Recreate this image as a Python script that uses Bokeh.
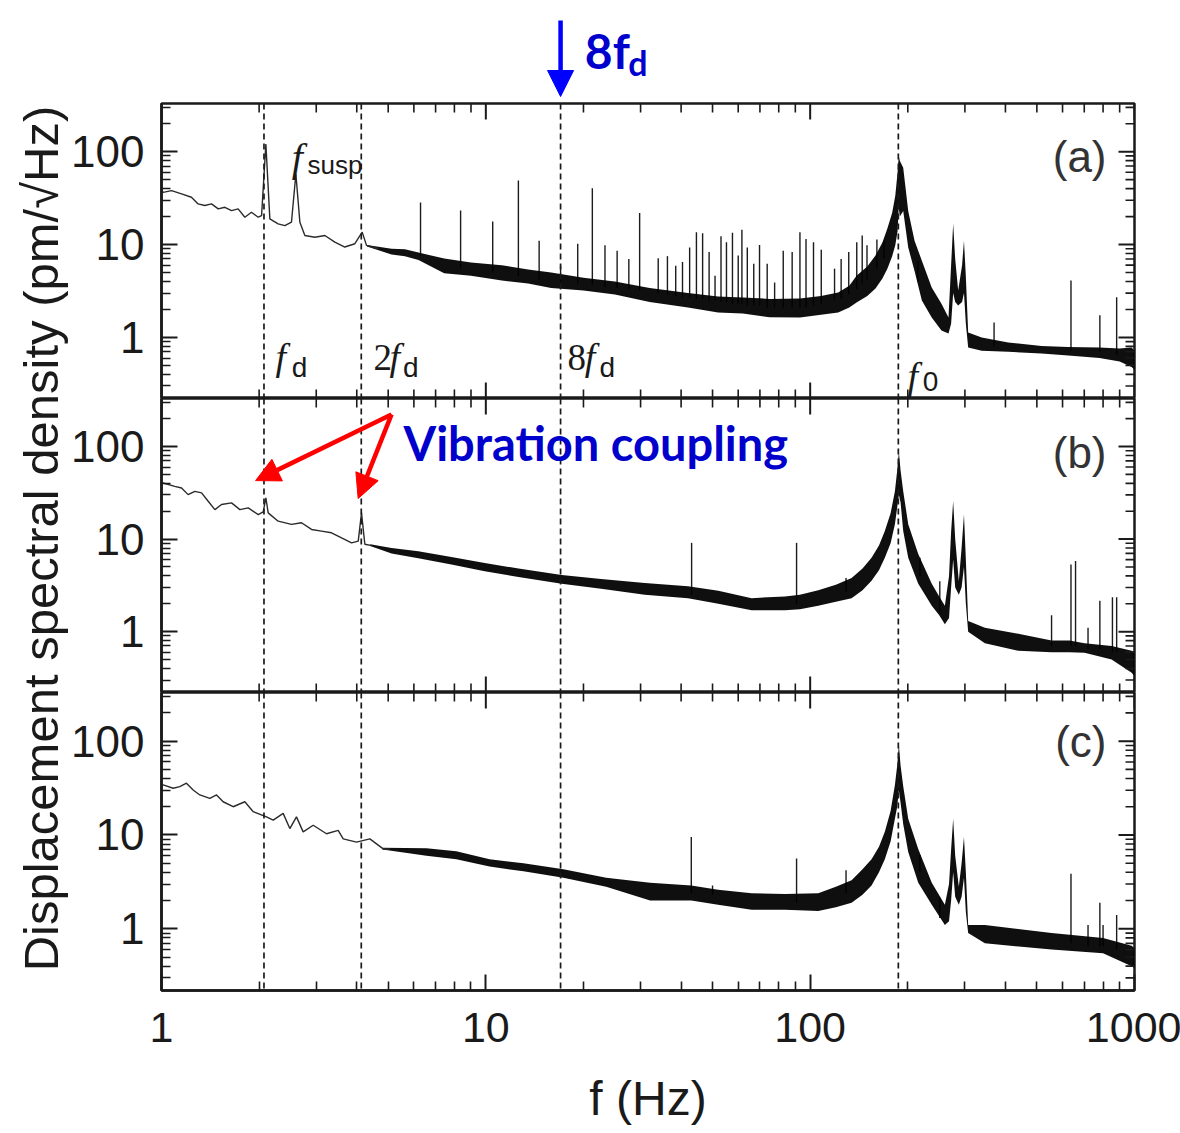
import math
from bokeh.plotting import figure
from bokeh.models import (Range1d, LogAxis, FixedTicker, PrintfTickFormatter, Span, Label,
                          Arrow, NormalHead)
from bokeh.layouts import column, row
from bokeh.embed import file_html
from bokeh.resources import INLINE

# ---------------- data ----------------
x_ticks = [1, 10, 100, 1000]
y_ticks = [1, 10, 100]
panel_names = ["(a)", "(b)", "(c)"]
marker_freqs = [2.07, 4.13, 17.0, 187.0]      # f_d, 2f_d, 8f_d, f_0

# ---- panel (a)
line_a_f = [1.0, 1.012, 1.074, 1.153, 1.237, 1.297, 1.36, 1.426, 1.496, 1.568, 1.644, 1.723, 1.807,
            1.894, 1.987, 2.035, 2.098, 2.158, 2.289, 2.401, 2.516, 2.596, 2.671, 2.767, 2.971,
            3.19, 3.423, 3.675, 3.946, 4.157, 4.287, 4.657]
line_a_v = [38.0, 36.5, 38.1, 35.1, 32.3, 27.4, 26.3, 27.4, 24.2, 25.2, 23.2, 24.2, 19.7,
            22.3, 19.7, 20.5, 121, 18.9, 16.7, 16.0, 17.4, 57.5, 17.4, 12.5, 12.0,
            12.5, 10.6, 9.4, 10.2, 13.6, 9.8, 9.0]
band_a_f = [4.3, 5.12, 5.63, 6.2, 7.44, 9.0, 11.2, 13.5, 15.9, 20, 25, 32, 42, 52, 62, 75, 93, 108,
            122, 132, 139, 150, 159, 167, 173, 179, 183, 186, 187.5, 189, 193.6, 200.6, 209.8,
            221, 237, 254, 267, 272, 276, 280, 286, 294, 298, 302, 307, 338, 408, 517, 625,
            780, 900, 980, 1000]
band_a_lo = [9.5, 7.8, 7.5, 6.8, 4.9, 4.6, 4.1, 3.8, 3.4, 3.2, 2.9, 2.4, 2.1, 1.85, 1.81, 1.65, 1.64,
             1.75, 1.86, 2.1, 2.38, 2.8, 3.37, 4.3, 5.5, 7.5, 9.8, 14, 25, 20, 23, 9.3, 5.2,
             2.5, 1.64, 1.19, 1.1, 1.4, 3.0, 2.4, 2.2, 2.4, 3.0, 1.4, 0.78, 0.72, 0.70, 0.67, 0.64,
             0.6, 0.55, 0.48, 0.45]
band_a_hi = [9.9, 9.0, 8.9, 8.2, 7.06, 6.4, 6.0, 5.4, 5.0, 4.4, 4.0, 3.4, 3.0, 2.75, 2.69, 2.6, 2.63,
             2.8, 3.05, 3.6, 4.6, 5.8, 7.6, 10.5, 14.9, 22, 33.6, 60, 90, 80, 67, 23, 11,
             6.7, 3.45, 2.3, 1.64, 6.0, 16.8, 7.0, 3.2, 6.0, 11.0, 4.5, 1.13, 1.0, 0.88, 0.81, 0.79,
             0.78, 0.76, 0.78, 0.72]
spike_a_f = [6.29, 8.36, 10.5, 12.6, 14.6, 17.0, 19.2, 21.3, 23.3, 25.4, 27.6, 29.8, 34.0, 36.3,
             38.5, 40.4, 42.5, 44.6, 46.6, 48.8, 50.9, 53.1, 55.2, 57.6, 60.0, 61.6, 64.0, 67.0,
             69.8, 73.7, 77.7, 82.6, 88.0, 93.0, 97.1, 102.4, 108.2, 118.9, 124.6, 131.5, 139.2,
             144.7, 149.7, 160.6, 168.9, 215, 369, 637, 782, 881]
spike_a_base = [7.5, 5.5, 5.0, 4.6, 4.2, 4.0, 3.8, 3.7, 3.5, 3.4, 3.3, 3.2, 3.0, 2.9,
                2.8, 2.7, 2.7, 2.6, 2.6, 2.5, 2.5, 2.4, 2.4, 2.3, 2.3, 2.3, 2.2, 2.2,
                2.2, 2.1, 2.1, 2.1, 2.1, 2.1, 2.1, 2.2, 2.3, 2.5, 2.6, 2.9, 3.3,
                3.8, 4.2, 5.5, 7.0, 4.0, 0.8, 0.72, 0.7, 0.65]
spike_a_top = [28.3, 23.2, 17.7, 48.8, 11.0, 5.9, 10.2, 40.3, 9.8, 8.6, 7.0, 21.9, 7.1, 7.5,
               5.9, 6.5, 9.3, 13.6, 13.2, 8.3, 4.6, 12.3, 10.6, 13.4, 7.6, 14.4, 9.3, 6.2,
               9.9, 6.2, 3.9, 8.6, 8.3, 13.6, 11.5, 10.6, 8.8, 5.5, 7.0, 8.3, 10.6,
               12.5, 9.8, 11.3, 11.0, 6.7, 1.45, 4.1, 1.73, 2.7]

# ---- panel (b)
line_b_f = [1.0, 1.012, 1.099, 1.153, 1.208, 1.267, 1.329, 1.393, 1.461, 1.531, 1.644, 1.744, 1.851,
            1.987, 2.059, 2.098, 2.133, 2.289, 2.516, 2.702, 2.901, 3.114, 3.343, 3.591, 3.855,
            4.042, 4.137, 4.236, 4.45]
line_b_v = [41.0, 40.3, 37.1, 35.6, 30.2, 32.8, 31.5, 25.6, 20.8, 23.6, 24.6, 20.8, 21.7,
            18.4, 19.7, 27.8, 19.2, 15.6, 14.4, 15.0, 12.7, 12.2, 11.7, 10.3, 9.1,
            9.5, 19.2, 8.8, 8.5]
band_b_f = [4.4, 5.12, 6.19, 7.83, 9.92, 12.61, 17.13, 22.67, 30.9, 42, 52.1, 66, 83.6, 93, 105.9,
            120, 134.2, 145, 154.6, 163, 169.9, 177, 182.5, 185.5, 187.7, 190, 193.6, 200.6,
            215.4, 237.1, 250, 260.2, 268, 272, 276, 280, 287.3, 293, 298, 302, 307, 345.7,
            438.2, 555, 630, 701.5, 850, 980, 1000]
band_b_lo = [8.4, 7.0, 6.2, 5.3, 4.5, 3.9, 3.3, 2.9, 2.5, 2.3, 2.0, 1.7, 1.7, 1.75, 1.9,
             2.1, 2.3, 2.8, 3.55, 4.6, 6.3, 9.0, 14.5, 22, 30, 25, 12.2, 6.3,
             3.3, 1.9, 1.5, 1.2, 1.4, 3.0, 6.0, 3.0, 2.5, 3.0, 5.0, 2.0, 1.0, 0.75,
             0.62, 0.6, 0.6, 0.59, 0.5, 0.36, 0.33]
band_b_hi = [8.8, 8.0, 7.4, 6.4, 5.5, 4.8, 4.1, 3.7, 3.35, 3.1, 2.76, 2.3, 2.4, 2.5, 2.8,
             3.2, 3.8, 4.8, 6.3, 8.5, 12.2, 19, 32.8, 55, 88.4, 55, 32.8, 14.5,
             6.9, 3.3, 2.4, 1.9, 4.0, 12, 25.7, 10, 3.5, 8.0, 18.4, 6.0, 1.3, 1.1,
             0.95, 0.8, 0.8, 0.75, 0.7, 0.62, 0.6]
spike_b_f = [43.1, 90.8, 129, 217.9, 251, 555, 637, 658, 719, 782, 855, 881]
spike_b_base = [2.5, 2.0, 2.7, 4.0, 1.6, 0.7, 0.7, 0.7, 0.65, 0.65, 0.6, 0.6]
spike_b_top = [9.1, 9.1, 3.8, 6.3, 3.5, 1.5, 5.3, 5.8, 1.1, 2.15, 2.35, 2.35]

# ---- panel (c)
line_c_f = [1.0, 1.012, 1.086, 1.139, 1.194, 1.252, 1.313, 1.409, 1.478, 1.549, 1.663, 1.807, 1.918,
            2.107, 2.21, 2.372, 2.487, 2.607, 2.734, 2.936, 3.227, 3.506, 3.633, 3.994, 4.389,
            4.826, 5.058]
line_c_v = [34.0, 34.2, 31.5, 32.8, 35.6, 30.2, 26.7, 24.6, 26.7, 22.6, 20.0, 22.6, 17.7,
            15.6, 14.4, 17.0, 11.7, 15.6, 10.8, 12.7, 10.3, 11.2, 9.1, 8.4, 9.1,
            7.1, 7.1]
band_c_f = [4.8, 6.56, 8.11, 10.27, 13.06, 17.34, 23.5, 32.1, 43, 52, 66, 83.6, 105.9, 120, 134.2,
            145, 154.6, 163, 169.9, 177, 182.5, 185.5, 187.7, 190, 193.6, 200.6, 215.4, 237.1,
            260.2, 268, 272, 276, 280, 287.3, 293, 298, 302, 307, 345.7, 555, 800, 980, 1000]
band_c_lo = [7.0, 6.0, 5.5, 4.6, 4.1, 3.5, 2.8, 2.0, 2.0, 1.8, 1.6, 1.6, 1.55, 1.7, 1.9,
             2.3, 2.9, 4.0, 5.5, 8.5, 14.9, 20, 30, 22, 13, 6.6, 3.1, 1.8,
             1.1, 1.2, 2.0, 4.0, 2.2, 1.8, 2.2, 3.5, 1.5, 0.9, 0.7, 0.6, 0.55, 0.4, 0.38]
band_c_hi = [7.3, 7.2, 6.7, 5.5, 5.0, 4.3, 3.5, 3.1, 2.9, 2.6, 2.4, 2.35, 2.4, 2.8, 3.3,
             4.3, 5.5, 7.5, 10.8, 18, 34, 55, 92, 55, 33, 14.9, 7.1, 3.1,
             1.8, 3.0, 7.0, 14.9, 6.0, 2.8, 5.0, 9.5, 4.0, 1.1, 1.1, 0.9, 0.8, 0.66, 0.62]
spike_c_f = [43.0, 50.0, 90.8, 129, 217.9, 251, 637, 719, 782, 800, 881]
spike_c_base = [2.4, 2.3, 1.9, 2.4, 4.0, 1.3, 0.7, 0.65, 0.65, 0.65, 0.6]
spike_c_top = [9.5, 2.9, 5.6, 4.2, 6.1, 2.16, 3.85, 1.1, 1.9, 1.1, 1.4]

# ---------------- layout constants ----------------
Y_START, Y_END = 0.22, 330
FRAME_W = 973
YLAB_W = 68
LEFT_B, RIGHT_B = 92, 47
TICK_FONT = "Liberation Sans"
INK = "#1a1a1a"
BLUE = "#0000CC"
RED = "#FF0000"
MAJOR_LEN, MINOR_LEN = 16, 9

x_minor = [m * 10 ** e for e in range(0, 3) for m in range(2, 10)]
y_minor = [m * 10 ** e for e in range(-1, 3) for m in range(2, 10) if Y_START < m * 10 ** e < Y_END]

XR = Range1d(1, 1000)


def make_axis(ticks, minor, font_size):
    ax = LogAxis(ticker=FixedTicker(ticks=ticks, minor_ticks=minor),
                 formatter=PrintfTickFormatter(format="%d"))
    ax.major_tick_in = MAJOR_LEN
    ax.major_tick_out = 0
    ax.minor_tick_in = MINOR_LEN
    ax.minor_tick_out = 0
    ax.major_tick_line_width = 2
    ax.minor_tick_line_width = 1.6
    ax.major_tick_line_color = INK
    ax.minor_tick_line_color = INK
    ax.axis_line_width = 2.5
    ax.axis_line_color = INK
    ax.major_label_text_font = TICK_FONT
    ax.major_label_text_font_size = font_size
    ax.major_label_text_color = INK
    ax.major_label_standoff = 17
    return ax


def edge_ticks(p, xs, ys, angle, length, width):
    # tick marks on an unlabeled edge: a dash centred on the frame edge, the outer half is clipped
    p.scatter(x=xs, y=ys, marker="dash", size=2 * length, angle=angle,
              line_color=INK, line_width=width)


def make_panel(fh, top_border, bottom_border, name, lab_y, lf, lv, bf, blo, bhi, sf, sb, st,
               xlabels=False):
    p = figure(x_axis_type="log", y_axis_type="log", x_range=XR, y_range=Range1d(Y_START, Y_END),
               frame_width=FRAME_W, frame_height=fh, min_border_left=LEFT_B, min_border_right=RIGHT_B,
               min_border_top=top_border, min_border_bottom=bottom_border,
               x_axis_location=None, y_axis_location=None,
               toolbar_location=None, output_backend="svg")
    p.grid.visible = False
    p.outline_line_color = INK
    p.outline_line_width = 2.5
    p.border_fill_color = "white"

    for f in marker_freqs:
        p.add_layout(Span(location=f, dimension="height", line_color=INK, line_width=1.7,
                          line_dash="6 4"))

    p.segment(x0=sf, y0=sb, x1=sf, y1=st, line_color="#1c1c1c", line_width=1.4)
    p.varea(x=bf, y1=blo, y2=bhi, fill_color="black", fill_alpha=0.94)
    p.line(lf, lv, line_color="#2b2b2b", line_width=1.4)

    # labeled left axis
    p.add_layout(make_axis(y_ticks, y_minor, "44px"), "left")
    # right edge ticks
    edge_ticks(p, [XR.end] * len(y_ticks), y_ticks, 0, MAJOR_LEN, 2)
    edge_ticks(p, [XR.end] * len(y_minor), y_minor, 0, MINOR_LEN, 1.6)
    # top edge ticks
    edge_ticks(p, x_ticks, [Y_END] * len(x_ticks), math.pi / 2, MAJOR_LEN, 2)
    edge_ticks(p, x_minor, [Y_END] * len(x_minor), math.pi / 2, MINOR_LEN, 1.6)
    if xlabels:
        bx = make_axis(x_ticks, x_minor, "43px")
        bx.major_label_standoff = 22
        bx.axis_label = "f (Hz)"
        bx.axis_label_text_font = TICK_FONT
        bx.axis_label_text_font_size = "48px"
        bx.axis_label_text_font_style = "normal"
        bx.axis_label_text_color = INK
        bx.axis_label_standoff = 27
        p.add_layout(bx, "below")
    else:
        edge_ticks(p, x_ticks, [Y_START] * len(x_ticks), math.pi / 2, MAJOR_LEN, 2)
        edge_ticks(p, x_minor, [Y_START] * len(x_minor), math.pi / 2, MINOR_LEN, 1.6)

    p.add_layout(Label(x=XR.end, y=lab_y, x_offset=-28, text=name, text_align="right",
                       text_baseline="middle", text_font=TICK_FONT, text_font_size="44px",
                       text_color="#333333"))
    return p


pa = make_panel(295, 2, 0, panel_names[0], 88, line_a_f, line_a_v, band_a_f, band_a_lo, band_a_hi,
                spike_a_f, spike_a_base, spike_a_top)
pb = make_panel(294, 0, 0, panel_names[1], 86, line_b_f, line_b_v, band_b_f, band_b_lo, band_b_hi,
                spike_b_f, spike_b_base, spike_b_top)
pc = make_panel(298, 0, 143, panel_names[2], 100, line_c_f, line_c_v, band_c_f, band_c_lo, band_c_hi,
                spike_c_f, spike_c_base, spike_c_top, xlabels=True)


def lab(p, x, y, t, size, font, italic=False):
    p.add_layout(Label(x=x, y=y, text=t, text_font=font,
                       text_font_style="italic" if italic else "normal",
                       text_font_size=size, text_color=INK, text_baseline="alphabetic"))


SERIF, SANS = "Liberation Serif", "Liberation Sans"
# annotations in panel (a)
lab(pa, 2.52, 86, "f", "40px", SERIF, True)
lab(pa, 2.82, 71, "susp", "26px", SANS)
lab(pa, 2.246, 0.609, "f", "38px", SERIF, True)
lab(pa, 2.519, 0.476, "d", "28px", SANS)
lab(pa, 4.505, 0.609, "2", "37px", SERIF)
lab(pa, 5.05, 0.609, "f", "38px", SERIF, True)
lab(pa, 5.55, 0.476, "d", "28px", SANS)
lab(pa, 17.86, 0.609, "8", "37px", SERIF)
lab(pa, 20.2, 0.609, "f", "38px", SERIF, True)
lab(pa, 22.4, 0.476, "d", "28px", SANS)
lab(pa, 199.6, 0.381, "f", "38px", SERIF, True)
lab(pa, 222.2, 0.335, "0", "28px", SANS)

# annotations in panel (b)
pb.add_layout(Label(x=5.575, y=108, text="Vibration coupling", text_font="Lato",
                    text_font_style="bold", text_font_size="47px", text_color=BLUE,
                    text_baseline="alphabetic"))
for xe, ye in [(1.95, 42.8), (4.04, 27.4)]:
    pb.add_layout(Arrow(end=NormalHead(size=24, fill_color=RED, line_color=RED),
                        x_start=5.12, y_start=222, x_end=xe, y_end=ye,
                        line_color=RED, line_width=4.5))

# top strip with the 8 f_d arrow (page rows 0..101)
top = figure(x_axis_type="log", x_range=XR, y_range=Range1d(2, 103),
             frame_width=FRAME_W, frame_height=101, min_border_left=LEFT_B, min_border_right=RIGHT_B,
             min_border_top=0, min_border_bottom=0, x_axis_location=None, y_axis_location=None,
             toolbar_location=None, output_backend="svg")
top.grid.visible = False
top.outline_line_color = None
top.add_layout(Arrow(end=NormalHead(size=26, fill_color="#0000FF", line_color="#0000FF"),
                     x_start=marker_freqs[2], y_start=83, x_end=marker_freqs[2], y_end=7,
                     line_color="#0000FF", line_width=4.5))
top.add_layout(Label(x=20.2, y=53, text="8f", text_font="Lato", text_font_style="bold",
                     text_font_size="48px", text_color=BLUE, text_baseline="alphabetic"))
top.add_layout(Label(x=27.5, y=41, text="d", text_font="Lato", text_font_style="bold",
                     text_font_size="34px", text_color=BLUE, text_baseline="alphabetic"))

# left strip with the y label
ylab = figure(width=YLAB_W, height=1133, x_range=Range1d(0, YLAB_W), y_range=Range1d(0, 1133),
              min_border=0, x_axis_location=None, y_axis_location=None,
              toolbar_location=None, output_backend="svg")
ylab.grid.visible = False
ylab.outline_line_color = None
ylab.add_layout(Label(x=40, y=595, text="Displacement spectral density (pm/\u221aHz)",
                      angle=90, angle_units="deg", text_align="center", text_baseline="middle",
                      text_font=TICK_FONT, text_font_size="49px", text_color=INK))

layout = row(ylab, column(top, pa, pb, pc))
open("out.html", "w").write(file_html(layout, INLINE))
